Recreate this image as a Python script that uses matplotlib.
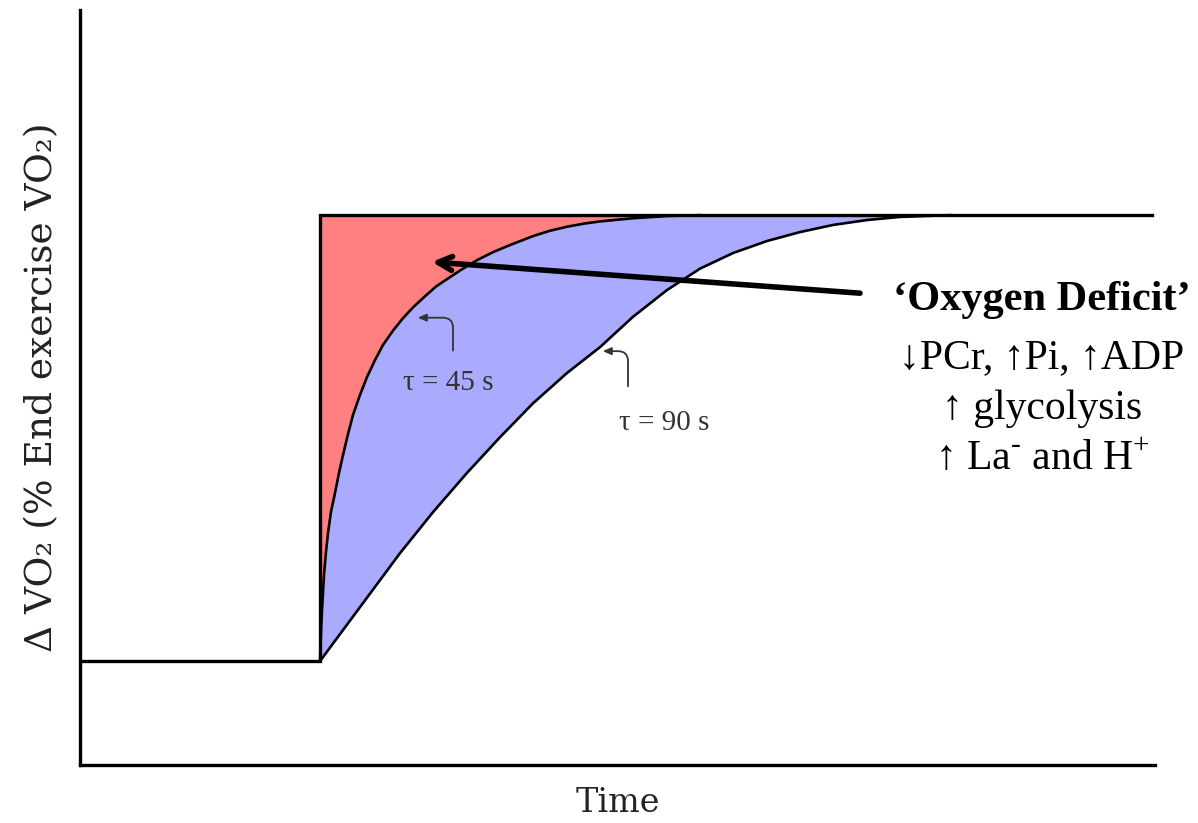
import numpy as np
import matplotlib.pyplot as plt

plt.rcParams["mathtext.fontset"] = "custom"
plt.rcParams["mathtext.rm"] = "Liberation Serif"

# time axis in seconds, exercise onset and end of the plateau line
onset = 120.0
t_end = 536.0

# VO2 response (% of end-exercise VO2) vs time since onset
t45 = [0, 0.5, 1, 2, 3, 4, 5.5, 7.5, 9.5, 11.5, 14, 16.5, 20, 23.5, 27.5, 31.5,
       36.5, 41.5, 46.5, 51.5, 58, 65, 71.5, 78.5, 86.5, 95, 106.5, 115,
       123.5, 132, 140, 156.5, 173.5, 190]
vo2_45 = [0, 6.5, 11.4, 19.3, 24.5, 28.7, 33.5, 37.7, 42.2, 46.2, 50.9, 55.2,
          59.7, 63.7, 67.5, 70.9, 74.1, 76.9, 79.3, 81.4, 84.0, 86.1, 88.0,
          89.9, 91.7, 93.3, 95.3, 96.5, 97.4, 98.1, 98.6, 99.3, 99.8, 100]

t90 = [0, 20, 40, 56.5, 73.5, 90, 106.5, 123.5, 140, 156.5, 173.5, 190, 206.5,
       223.5, 240, 256.5, 273.5, 290, 315]
vo2_90 = [0, 12.1, 24.2, 33.4, 42.2, 50.2, 57.8, 64.6, 70.4, 77.2, 83.2, 88.0,
          91.5, 94.2, 96.2, 97.8, 98.9, 99.6, 100]

x45 = onset + np.array(t45)
y45 = np.array(vo2_45)
x90 = onset + np.array(t90)
y90 = np.array(vo2_90)

fig = plt.figure(figsize=(11.98, 8.23), dpi=100)
ax = fig.add_axes([80 / 1198, 1 - 765 / 823, 1075 / 1198, 755 / 823])

# deficit areas
red_x = np.concatenate([x45, [onset]])
red_y = np.concatenate([y45, [100]])
ax.fill(red_x, red_y, color="#ff8080", lw=0)
blue_x = np.concatenate([x45, x90[::-1]])
blue_y = np.concatenate([y45, y90[::-1]])
ax.fill(blue_x, blue_y, color="#aaaaff", lw=0)

# square-wave work demand
ax.plot([0, onset, onset, t_end], [0, 0, 100, 100], color="black", lw=2.4,
        solid_joinstyle="miter", zorder=3)
ax.plot(x45, y45, color="black", lw=1.9, zorder=3, solid_joinstyle="round")
ax.plot(x90, y90, color="black", lw=1.9, zorder=3, solid_joinstyle="round")

ax.set_xlim(0, 537.5)
ax.set_ylim(-23.3, 146)
ax.set_xticks([])
ax.set_yticks([])
for side in ["top", "right"]:
    ax.spines[side].set_visible(False)
for side in ["left", "bottom"]:
    ax.spines[side].set_linewidth(2.4)

ax.set_xlabel("Time", fontsize=24, family="DejaVu Serif", color="#222222",
              labelpad=16)
ax.set_ylabel("Δ VO₂ (% End exercise VO₂)", fontsize=27, family="DejaVu Serif",
              color="#222222", labelpad=14)

# tau labels with small curved pointers
tau_style = dict(fontsize=21, family="Liberation Serif", color="#333333",
                 ha="center", va="center")
pointer = dict(arrowstyle="-|>,head_length=0.5,head_width=0.22",
               color="#333333", lw=1.3,
               connectionstyle="angle,angleA=90,angleB=0,rad=10")
ax.text(184, 62.3, "τ = 45 s", **tau_style)
ax.annotate("", xy=(167.5, 77), xytext=(186.5, 69), arrowprops=pointer)
ax.text(292, 53.5, "τ = 90 s", **tau_style)
ax.annotate("", xy=(260, 69.5), xytext=(274, 61), arrowprops=pointer)

# oxygen deficit callout
ax.annotate("", xy=(176, 89.5), xytext=(390, 82.5),
            arrowprops=dict(arrowstyle="->,head_length=1.0,head_width=0.5",
                            color="black", lw=4, shrinkA=0, shrinkB=0))
fig.text(1042 / 1198, 1 - 300 / 823, "‘Oxygen Deficit’", fontsize=30.5,
         family="Liberation Serif", weight="bold", ha="center", va="center")
body = ["↓PCr, ↑Pi, ↑ADP", "↑ glycolysis", r"↑ La$^{\text{-}}$ and H$^{+}$"]
for i, line in enumerate(body):
    fig.text(1042 / 1198, 1 - (358 + 51 * i) / 823, line, fontsize=30,
             family="Liberation Serif", ha="center", va="center")

fig.savefig("out.png", dpi=100)
